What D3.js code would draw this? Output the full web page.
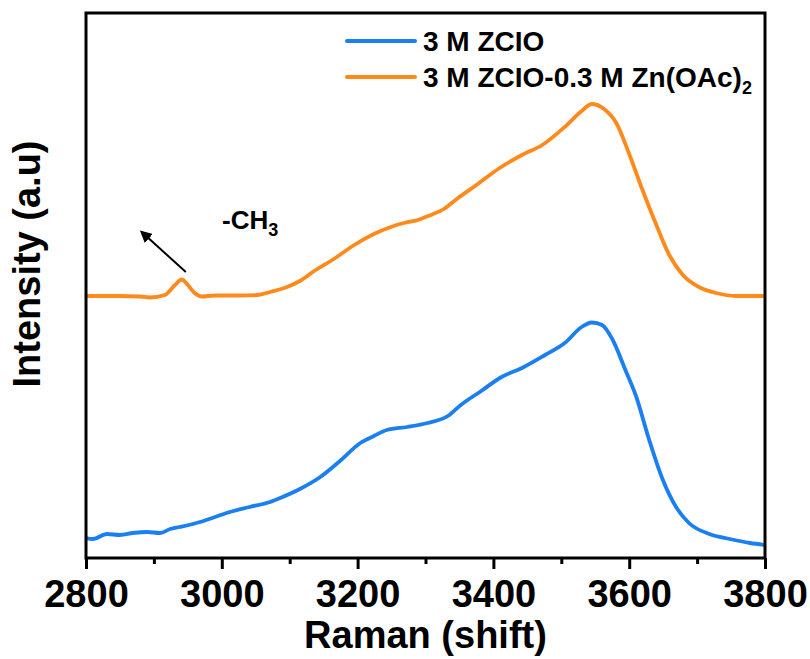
<!DOCTYPE html>
<html>
<head>
<meta charset="utf-8">
<script src="https://cdn.jsdelivr.net/npm/d3@7"></script>
<style>
  html, body { margin: 0; padding: 0; background: #fff; }
  svg { display: block; font-family: Arial, "Liberation Sans", sans-serif; font-weight: bold; }
</style>
</head>
<body>
<svg id="chart" width="810" height="659"></svg>
<script>
// Raman shift (cm-1) for each series
const blueShift = [2800,2810,2831,2850,2869,2890,2909,2924,2938,2968,2990,3012,3041,3071,3086,3115,3145,3174,3204,3224,3243,3273,3303,3333,3352,3382,3412,3442,3476,3505,3530,3545,3560,3575,3595,3610,3629,3649,3669,3688,3718,3748,3778,3800];
const blueIntensity = [20,19,24,23,25,26,25,29,31,36,41,46,51,56,60,69,81,97,115,122,128,131,135,142,153,167,181,190,203,215,231,235.5,233,219,187,162,119,79,51,35,24,19,15,13];

const orangeShift = [2800,2850,2879,2894,2916,2931,2941,2950,2960,2971,2990,3027,3053,3071,3096,3115,3136,3165,3195,3224,3249,3268,3289,3304,3327,3348,3377,3407,3442,3472,3505,3530,3545,3563,3581,3600,3619,3640,3659,3679,3704,3728,3757,3800];
const orangeIntensity = [262,262,261.5,260.5,263,273,278.5,273,265,261.5,262.5,262.5,263,266,271,277,287,299,313,324,331,335,338,342,349,360,374,389,403,413,431,447,454,449,435,404,369,333,303,283,270.5,265,262,262];

const seriesNames = ["3 M ZCIO", "3 M ZCIO-0.3 M Zn(OAc)"];
const seriesColors = ["#1a7ff0", "#ff8a1c"];
const majorTicks = [2800,3000,3200,3400,3600,3800];
const minorTicks = [2900,3100,3300,3500,3700];
const xDomain = [2800, 3800];
const yDomain = [0, 545];
const annotationText = "-CH";
const annotationSub = "3";
const annotationArrowFrom = [2947, 286]; // data coords (shift, intensity)
const annotationArrowTo = [2882, 326];

const svg = d3.select("#chart");
const L = 86, R = 765, T = 13, B = 558;

const x = d3.scaleLinear().domain(xDomain).range([L, R]);
const y = d3.scaleLinear().domain(yDomain).range([B, T]);

const line = d3.line().x(d => x(d[0])).y(d => y(d[1])).curve(d3.curveMonotoneX);

const series = [
  d3.zip(blueShift, blueIntensity),
  d3.zip(orangeShift, orangeIntensity)
];

svg.append("defs").append("clipPath").attr("id", "clip")
  .append("rect").attr("x", L).attr("y", T).attr("width", R - L).attr("height", B - T);

const g = svg.append("g").attr("clip-path", "url(#clip)");
series.forEach((s, i) => {
  g.append("path").datum(s)
    .attr("d", line)
    .attr("fill", "none")
    .attr("stroke", seriesColors[i])
    .attr("stroke-width", 3.8)
    .attr("stroke-linejoin", "round")
    .attr("stroke-linecap", "round");
});

// axes
const xAxis = svg.append("g").attr("transform", `translate(0,${B})`)
  .call(d3.axisBottom(x).tickValues(majorTicks).tickSize(11).tickPadding(11).tickFormat(d3.format("d")));
xAxis.select(".domain").remove();
xAxis.selectAll(".tick line").attr("stroke", "#000").attr("stroke-width", 3);
xAxis.selectAll(".tick text").attr("font-size", 38).attr("font-family", "Arial, 'Liberation Sans', sans-serif").attr("font-weight", "bold").attr("fill", "#000");

const xMinor = svg.append("g").attr("transform", `translate(0,${B})`)
  .call(d3.axisBottom(x).tickValues(minorTicks).tickSize(6).tickFormat(""));
xMinor.select(".domain").remove();
xMinor.selectAll(".tick line").attr("stroke", "#000").attr("stroke-width", 3);

// frame
svg.append("rect").attr("x", L).attr("y", T).attr("width", R - L).attr("height", B - T)
  .attr("fill", "none").attr("stroke", "#000").attr("stroke-width", 3);

// axis titles
svg.append("text").attr("x", (L + R) / 2).attr("y", 648).attr("text-anchor", "middle")
  .attr("font-size", 38).text("Raman (shift)");
svg.append("text").attr("transform", "translate(40,264) rotate(-90)").attr("text-anchor", "middle")
  .attr("font-size", 38).text("Intensity (a.u)");

// legend
const legY = [41, 77];
seriesNames.forEach((name, i) => {
  svg.append("line").attr("x1", 347).attr("x2", 415).attr("y1", legY[i]).attr("y2", legY[i])
    .attr("stroke", seriesColors[i]).attr("stroke-width", 4).attr("stroke-linecap", "round");
  const t = svg.append("text").attr("x", 423).attr("y", legY[i] + 10).attr("font-size", 28).text(name);
  if (i === 1) {
    t.append("tspan").attr("font-size", 18).attr("dy", 7).text("2");
  }
});

// annotation
svg.append("defs").append("marker").attr("id", "arrow")
  .attr("viewBox", "0 0 10 10").attr("refX", 8).attr("refY", 5)
  .attr("markerWidth", 6).attr("markerHeight", 6).attr("orient", "auto")
  .append("path").attr("d", "M0,0 L10,5 L0,10 z").attr("fill", "#000");
svg.append("line")
  .attr("x1", x(annotationArrowFrom[0])).attr("y1", y(annotationArrowFrom[1]))
  .attr("x2", x(annotationArrowTo[0])).attr("y2", y(annotationArrowTo[1]))
  .attr("stroke", "#000").attr("stroke-width", 2).attr("marker-end", "url(#arrow)");
const ann = svg.append("text").attr("x", 222).attr("y", 229).attr("font-size", 26).text(annotationText);
ann.append("tspan").attr("font-size", 18).attr("dy", 7).text(annotationSub);
</script>
</body>
</html>
